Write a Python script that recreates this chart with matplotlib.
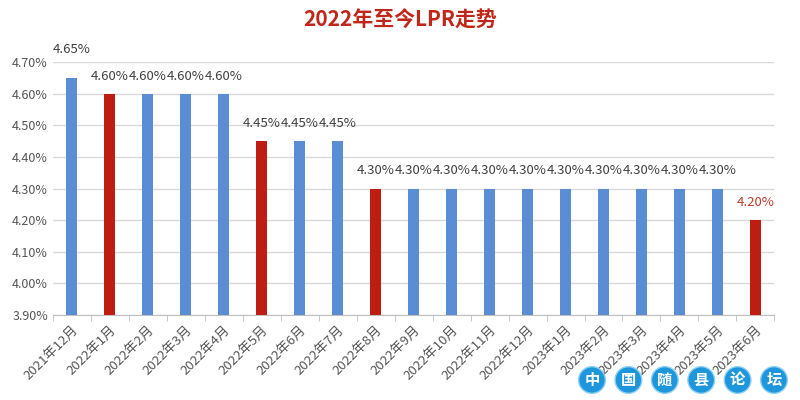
import matplotlib
matplotlib.use('Agg')
import matplotlib.pyplot as plt
import numpy as np

plt.rcParams['font.family'] = ['Noto Sans CJK SC', 'DejaVu Sans']

# 数据
months = ['2021年12月', '2022年1月', '2022年2月', '2022年3月', '2022年4月', '2022年5月',
          '2022年6月', '2022年7月', '2022年8月', '2022年9月', '2022年10月', '2022年11月',
          '2022年12月', '2023年1月', '2023年2月', '2023年3月', '2023年4月', '2023年5月',
          '2023年6月']
lpr = [4.65, 4.60, 4.60, 4.60, 4.60, 4.45, 4.45, 4.45, 4.30, 4.30, 4.30, 4.30,
       4.30, 4.30, 4.30, 4.30, 4.30, 4.30, 4.20]
changed = [False, True, False, False, False, True, False, False, True, False, False,
           False, False, False, False, False, False, False, True]
yticks = [3.90, 4.00, 4.10, 4.20, 4.30, 4.40, 4.50, 4.60, 4.70]

blue = '#5B8DD4'
red = '#BE1E12'

fig = plt.figure(figsize=(8, 4), dpi=100)
ax = fig.add_axes([0.066, 0.2125, 0.902, 0.6325])

x = np.arange(len(months))
colors = [red if c else blue for c in changed]
ax.bar(x, lpr, width=0.3, color=colors, zorder=3)

ax.set_ylim(3.90, 4.70)
ax.set_xlim(-0.5, len(months) - 0.5)
ax.set_yticks(yticks)
ax.set_yticklabels(['%.2f%%' % v for v in yticks], fontsize=9, color='#555555')
ax.grid(axis='y', color='#D9D9D9', linewidth=1, zorder=0)

ax.set_xticks(x)
ax.set_xticklabels(months, rotation=45, ha='right', rotation_mode='anchor',
                   fontsize=9.5, color='#555555')
ax.tick_params(axis='x', length=0, pad=6)
ax.set_xticks(np.arange(-0.5, len(months), 1), minor=True)
ax.tick_params(axis='x', which='minor', length=4, color='#BFBFBF')
ax.tick_params(axis='y', length=0)

for s in ['top', 'right', 'left']:
    ax.spines[s].set_visible(False)
ax.spines['bottom'].set_color('#BFBFBF')

# 数值标签
for i, v in enumerate(lpr):
    off = 16 if i == 0 else 8
    col = '#C0392B' if i == len(lpr) - 1 else '#404040'
    ax.annotate('%.2f%%' % v, (x[i], v), xytext=(0, off), textcoords='offset points',
                ha='center', va='bottom', fontsize=9.5, color=col)

fig.text(0.5, 0.95, '2022年至今LPR走势', ha='center', va='center',
         fontsize=15, fontweight='bold', color='#C0261A')

# 水印
for i, ch in enumerate('中国随县论坛'):
    fig.text(0.74 + i * 0.0455, 0.05, ch, ha='center', va='center', fontsize=11,
             color='white', fontweight='bold',
             bbox=dict(boxstyle='circle,pad=0.35', fc='#1E96DC', ec='#8FD0F5', lw=1))

fig.savefig('out.png', dpi=100)
